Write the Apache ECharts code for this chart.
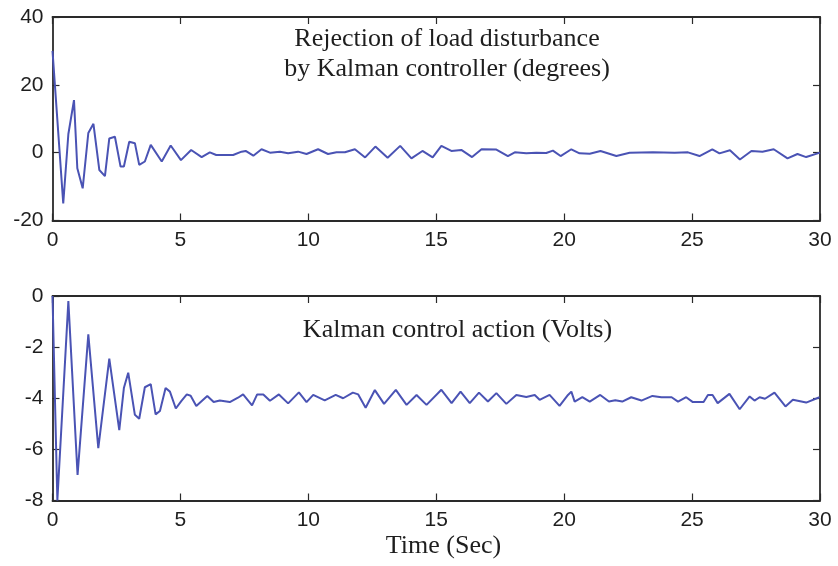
<!DOCTYPE html>
<html>
<head>
<meta charset="utf-8">
<script src="https://cdn.jsdelivr.net/npm/echarts@6/dist/echarts.min.js"></script>
<style>
  html, body { margin: 0; padding: 0; background: #ffffff; }
  #chart { width: 838px; height: 566px; }
</style>
</head>
<body>
<div id="chart"></div>
<script>
// Upper trace: load-disturbance rejection angle (degrees) vs time (s)
const angleTime = [0, 0.42, 0.62, 0.84, 0.97, 1.18, 1.40, 1.60, 1.83, 2.05, 2.22, 2.44, 2.66, 2.79, 3.00, 3.22, 3.39, 3.61, 3.84, 4.27, 4.62, 5.02, 5.42, 5.83, 6.15, 6.40, 7.06, 7.39, 7.55, 7.85, 8.17, 8.50, 8.89, 9.21, 9.60, 9.93, 10.38, 10.77, 11.10, 11.43, 11.82, 12.22, 12.62, 13.10, 13.59, 14.03, 14.46, 14.86, 15.20, 15.59, 15.98, 16.40, 16.77, 17.35, 17.80, 18.07, 18.52, 18.91, 19.30, 19.56, 19.86, 20.28, 20.60, 21.00, 21.42, 22.04, 22.56, 23.47, 24.32, 24.84, 25.29, 25.79, 26.07, 26.48, 26.87, 27.32, 27.75, 28.19, 28.73, 29.12, 29.46, 30.0];
const angleValue = [30, -15, 5.5, 15.5, -4.6, -10.5, 5.8, 8.5, -5.1, -6.9, 4.2, 4.7, -4.1, -4.1, 3.2, 2.8, -3.6, -2.6, 2.3, -2.6, 2.1, -2.2, 0.8, -1.3, 0.1, -0.7, -0.7, 0.3, 0.5, -0.9, 1.0, 0, 0.3, -0.2, 0.3, -0.4, 1.0, -0.4, 0.1, 0.1, 1.0, -1.4, 1.8, -1.5, 2.0, -1.7, 0.5, -1.4, 2.0, 0.5, 0.8, -1.3, 1.0, 0.9, -1.0, 0.1, -0.2, 0, -0.1, 0.6, -1.0, 1.0, -0.2, -0.3, 0.5, -1.0, 0.0, 0.1, 0.0, 0.1, -1.0, 1.0, -0.2, 0.7, -2.0, 0.5, 0.3, 1.0, -1.7, -0.4, -1.3, 0];

// Lower trace: controller output (volts) vs time (s)
const voltTime = [0, 0.19, 0.62, 0.98, 1.40, 1.79, 2.22, 2.61, 2.79, 2.96, 3.22, 3.39, 3.61, 3.84, 4.03, 4.20, 4.42, 4.59, 4.82, 5.04, 5.25, 5.40, 5.62, 6.05, 6.30, 6.54, 6.93, 7.25, 7.45, 7.80, 8.00, 8.24, 8.50, 8.85, 9.21, 9.63, 9.93, 10.19, 10.64, 11.07, 11.36, 11.74, 11.95, 12.24, 12.60, 12.96, 13.42, 13.84, 14.23, 14.62, 15.20, 15.60, 15.95, 16.31, 16.67, 17.02, 17.35, 17.74, 18.13, 18.52, 18.85, 19.04, 19.43, 19.82, 20.15, 20.28, 20.41, 20.71, 21.00, 21.41, 21.75, 22.00, 22.27, 22.62, 23.02, 23.45, 23.80, 24.20, 24.45, 24.77, 25.03, 25.45, 25.62, 25.80, 26.00, 26.46, 26.86, 27.25, 27.44, 27.64, 27.85, 28.22, 28.65, 28.94, 29.46, 29.98];
const voltValue = [0, -8.0, -0.2, -7.0, -1.5, -5.95, -2.45, -5.25, -3.6, -3.0, -4.65, -4.8, -3.57, -3.45, -4.63, -4.5, -3.6, -3.74, -4.4, -4.1, -3.85, -3.9, -4.3, -3.91, -4.15, -4.09, -4.15, -3.98, -3.85, -4.28, -3.85, -3.85, -4.1, -3.85, -4.2, -3.77, -4.15, -3.87, -4.08, -3.87, -4.0, -3.78, -3.85, -4.37, -3.68, -4.22, -3.67, -4.26, -3.87, -4.26, -3.67, -4.19, -3.74, -4.19, -3.78, -4.13, -3.8, -4.22, -3.87, -3.95, -3.87, -4.06, -3.87, -4.3, -3.87, -3.74, -4.13, -3.96, -4.13, -3.87, -4.13, -4.08, -4.13, -3.96, -4.09, -3.91, -3.96, -3.96, -4.13, -3.96, -4.15, -4.15, -3.87, -3.87, -4.19, -3.83, -4.43, -3.93, -4.09, -3.96, -4.02, -3.78, -4.32, -4.06, -4.17, -3.96];

// Axis ranges and tick spacing
const timeRange = [0, 30, 5];
const angleRange = [-20, 40, 20];
const voltRange = [-8, 0, 2];

// Panel captions
const angleCaption = ['Rejection of load disturbance', 'by Kalman controller (degrees)'];
const voltCaption = 'Kalman control action (Volts)';
const timeCaption = 'Time (Sec)';

const pairs = (xs, ys) => xs.map((x, i) => [x, ys[i]]);

const ink = '#1e1e1e';
const frame = '#2a2a2a';
const lineBlue = '#4a53b4';
const tickFont = { fontFamily: 'Liberation Sans, Arial, sans-serif', fontSize: 21, color: ink };
const captionFont = '26px "Liberation Serif", "Times New Roman", serif';

function xAxisFor(grid, pos, labels) {
  return {
    type: 'value', gridIndex: grid, position: pos,
    min: timeRange[0], max: timeRange[1], interval: timeRange[2],
    axisLine: { show: true, onZero: false, lineStyle: { color: frame, width: 1.8 } },
    axisTick: { show: true, inside: true, length: 7, lineStyle: { color: frame, width: 1.2 } },
    axisLabel: labels ? Object.assign({ show: true, margin: 9 }, tickFont) : { show: false },
    splitLine: { show: false }
  };
}

function yAxisFor(grid, pos, range, labels) {
  return {
    type: 'value', gridIndex: grid, position: pos,
    min: range[0], max: range[1], interval: range[2],
    axisLine: { show: true, onZero: false, lineStyle: { color: frame, width: 1.8 } },
    axisTick: { show: true, inside: true, length: 7, lineStyle: { color: frame, width: 1.2 } },
    axisLabel: labels ? Object.assign({ show: true, margin: 9 }, tickFont) : { show: false },
    splitLine: { show: false }
  };
}

function caption(text, x, y) {
  return { type: 'text', x: x, y: y, style: { text: text, fill: ink, font: captionFont, textAlign: 'center', textVerticalAlign: 'middle' } };
}

const chart = echarts.init(document.getElementById('chart'), null, { renderer: 'canvas' });

chart.setOption({
  animation: false,
  backgroundColor: '#ffffff',
  grid: [
    { left: 52.5, top: 17, width: 767.5, height: 203.5 },
    { left: 52.5, top: 296, width: 767.5, height: 204.5 }
  ],
  xAxis: [
    xAxisFor(0, 'bottom', true),
    xAxisFor(1, 'bottom', true),
    xAxisFor(0, 'top', false),
    xAxisFor(1, 'top', false)
  ],
  yAxis: [
    yAxisFor(0, 'left', angleRange, true),
    yAxisFor(1, 'left', voltRange, true),
    yAxisFor(0, 'right', angleRange, false),
    yAxisFor(1, 'right', voltRange, false)
  ],
  series: [
    {
      type: 'line', xAxisIndex: 0, yAxisIndex: 0,
      data: pairs(angleTime, angleValue),
      showSymbol: false, smooth: false,
      lineStyle: { color: lineBlue, width: 2 }
    },
    {
      type: 'line', xAxisIndex: 1, yAxisIndex: 1,
      data: pairs(voltTime, voltValue),
      showSymbol: false, smooth: false,
      lineStyle: { color: lineBlue, width: 2 }
    }
  ],
  graphic: [
    caption(angleCaption[0], 447, 39),
    caption(angleCaption[1], 447, 69.5),
    caption(voltCaption, 457.5, 330.5),
    caption(timeCaption, 443.5, 546)
  ]
});
</script>
</body>
</html>
